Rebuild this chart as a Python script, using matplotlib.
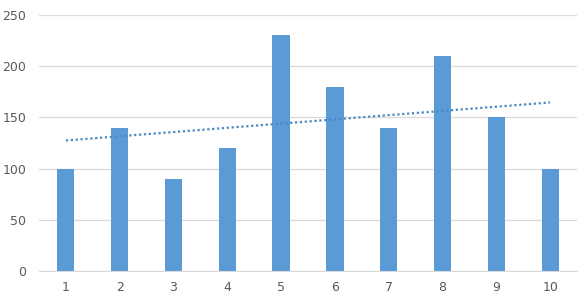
import matplotlib
matplotlib.use("Agg")
import matplotlib.pyplot as plt
import numpy as np

categories = ["1", "2", "3", "4", "5", "6", "7", "8", "9", "10"]
values = [100, 140, 90, 120, 230, 180, 140, 210, 150, 100]
yticks = [0, 50, 100, 150, 200, 250]

fig = plt.figure(figsize=(5.87, 3.03), dpi=100)
ax = fig.add_axes([0.0664, 0.1056, 0.9166, 0.845])
x = np.arange(1, len(values) + 1)
ax.bar(x, values, width=0.32, color="#5B9BD5", zorder=2)

# linear trendline
coef = np.polyfit(x, values, 1)
ax.plot(x, np.polyval(coef, x), linestyle=(0, (1, 1.2)), color="#4A8AC4",
        linewidth=1.6, zorder=3)

ax.set_xlim(0.5, len(values) + 0.5)
ax.set_ylim(0, 250)
ax.set_yticks(yticks)
ax.set_xticks(x)
ax.set_xticklabels(categories)
ax.grid(axis="y", color="#D9D9D9", linewidth=0.9, zorder=0)
for s in ["top", "right", "left"]:
    ax.spines[s].set_visible(False)
ax.spines["bottom"].set_color("#D9D9D9")
ax.tick_params(axis="both", length=0, colors="#595959", labelsize=9)
ax.tick_params(axis="y", pad=9)
ax.tick_params(axis="x", pad=7)
fig.savefig("out.png", dpi=100)
